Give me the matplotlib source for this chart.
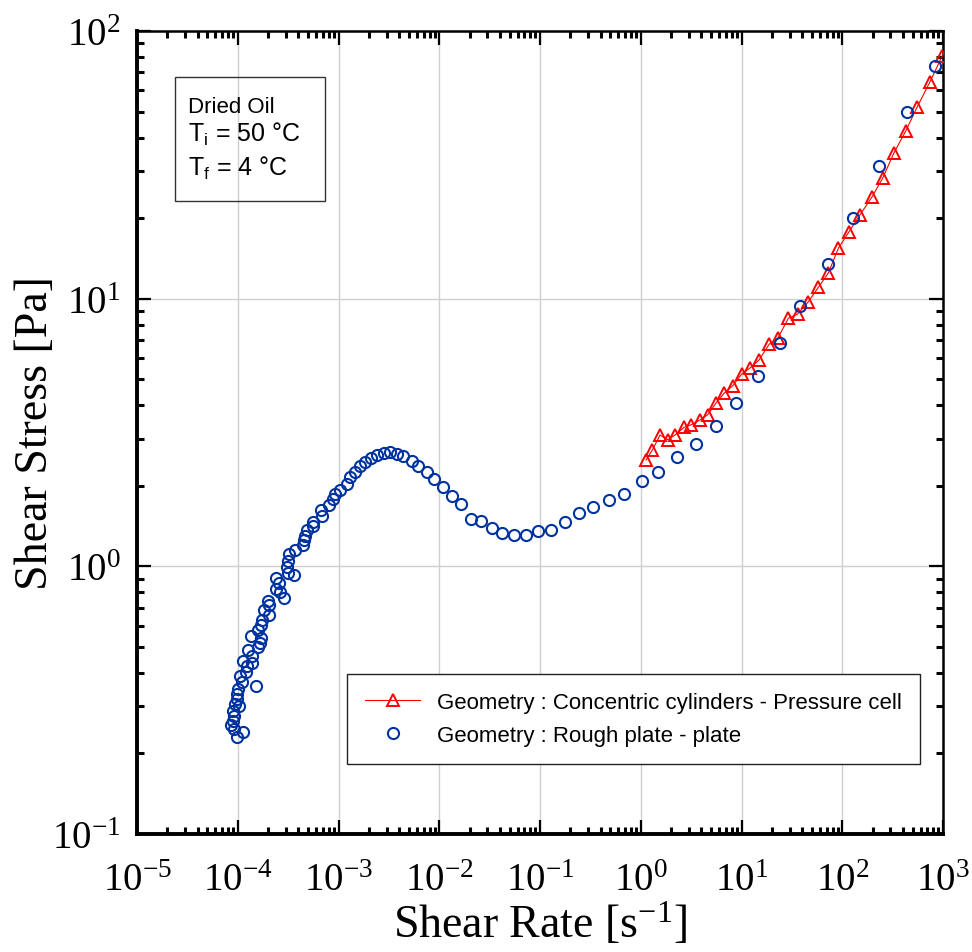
import matplotlib
matplotlib.use("Agg")
import matplotlib.pyplot as plt
from matplotlib.patches import Rectangle
from matplotlib.ticker import LogLocator, NullFormatter

plt.rcParams['font.family'] = 'Liberation Serif'

# rough plate - plate (blue circles)
rate_plate = [
    9.76e-5, 1.135e-4, 9.24e-5, 8.57e-5, 9.03e-5, 9.24e-5, 9.03e-5, 1.029e-4, 9.39e-5, 9.76e-5,
    9.76e-5, 9.99e-5, 1.508e-4, 1.110e-4, 1.053e-4, 1.199e-4, 1.227e-4, 1.394e-4, 1.120e-4, 1.375e-4,
    1.256e-4, 1.600e-4, 1.663e-4, 1.701e-4, 1.344e-4, 1.600e-4, 1.690e-4, 1.753e-4, 2.042e-4, 1.822e-4,
    2.056e-4, 2.010e-4, 2.877e-4, 2.627e-4, 2.397e-4, 2.550e-4, 2.397e-4, 3.640e-4, 3.175e-4, 3.104e-4,
    3.175e-4, 3.249e-4, 3.700e-4, 4.413e-4, 4.546e-4, 4.651e-4, 4.835e-4, 5.622e-4, 5.622e-4, 6.813e-4,
    6.704e-4, 8.049e-4, 8.757e-4, 9.23e-4, 1.035e-3, 1.223e-3, 1.300e-3, 1.458e-3, 1.634e-3, 1.832e-3,
    2.087e-3, 2.394e-3, 2.829e-3, 3.245e-3, 3.835e-3, 4.396e-3, 5.40e-3, 6.196e-3, 7.507e-3, 8.93e-3,
    1.097e-2, 1.347e-2, 1.633e-2, 2.052e-2, 2.597e-2, 3.317e-2, 4.224e-2, 5.52e-2, 7.26e-2, 9.62e-2,
    0.1286, 0.1770, 0.2438, 0.338, 0.484, 0.687, 1.022, 1.473, 2.306, 3.535,
    5.545, 8.82, 14.48, 24.11, 38.07, 72.7, 127.0, 233.2, 436.2, 838.8]
stress_plate = [
    0.231, 0.240, 0.247, 0.2555, 0.265, 0.2767, 0.2873, 0.300, 0.306, 0.3195,
    0.3334, 0.348, 0.358, 0.3688, 0.3905, 0.404, 0.4232, 0.4343, 0.443, 0.4636,
    0.487, 0.4983, 0.517, 0.5384, 0.548, 0.5783, 0.6036, 0.630, 0.658, 0.687,
    0.7171, 0.744, 0.7616, 0.804, 0.8228, 0.8642, 0.9022, 0.9306, 0.944, 0.994,
    1.050, 1.112, 1.154, 1.205, 1.257, 1.302, 1.370, 1.418, 1.460, 1.546,
    1.627, 1.695, 1.785, 1.864, 1.929, 2.031, 2.151, 2.257, 2.364, 2.460,
    2.533, 2.606, 2.651, 2.667, 2.629, 2.577, 2.481, 2.377, 2.257, 2.120,
    1.974, 1.826, 1.705, 1.503, 1.481, 1.391, 1.329, 1.309, 1.313, 1.352,
    1.370, 1.468, 1.582, 1.666, 1.765, 1.868, 2.084, 2.245, 2.561, 2.865,
    3.336, 4.066, 5.154, 6.830, 9.412, 13.48, 20.02, 31.39, 49.69, 73.8]

# concentric cylinders - pressure cell (red triangles)
rate_cyl = [1.127, 1.302, 1.552, 1.852, 2.188, 2.688, 3.131, 3.874, 4.618, 5.583,
            6.751, 8.18, 10.05, 12.15, 14.92, 18.87, 22.87, 29.14, 35.96, 46.03,
            57.86, 72.7, 91.4, 116.7, 150.1, 196.1, 252.1, 326.3, 426.4, 555.7,
            743.0, 984.2]
stress_cyl = [2.496, 2.720, 3.095, 2.972, 3.095, 3.307, 3.373, 3.522, 3.686, 4.076,
              4.442, 4.730, 5.231, 5.508, 5.901, 6.770, 7.111, 8.447, 8.764, 9.743,
              11.03, 12.47, 15.43, 17.79, 20.59, 23.91, 28.24, 35.11, 42.3, 52.15,
              64.66, 80.86]

label_cyl = "Geometry : Concentric cylinders - Pressure cell"
label_plate = "Geometry : Rough plate - plate"
blue = '#0033a0'

fig = plt.figure(figsize=(9.72, 9.53), dpi=100)
ax = fig.add_axes([0.141, 0.1238, 0.8292, 0.8426])

ax.plot(rate_cyl, stress_cyl, '-', color='red', lw=0.8, marker='^', ms=8,
        mfc='none', mec='red', mew=1.4, label=label_cyl, zorder=3)
ax.plot(rate_plate, stress_plate, 'o', ls='none', ms=8, mfc='none', mec=blue,
        mew=1.5, label=label_plate, zorder=4)

ax.set_xscale('log')
ax.set_yscale('log')
ax.set_xlim(1e-5, 1e3)
ax.set_ylim(1e-1, 1e2)
for axis in (ax.xaxis, ax.yaxis):
    axis.set_major_locator(LogLocator(base=10, numticks=20))
    axis.set_minor_locator(LogLocator(base=10, subs=range(2, 10), numticks=20))
    axis.set_minor_formatter(NullFormatter())

ax.grid(True, which='major', color='#d0d0d0', lw=1)
ax.set_axisbelow(True)

for s in ['left', 'bottom']:
    ax.spines[s].set_linewidth(2.8)
for s in ['top', 'right']:
    ax.spines[s].set_linewidth(1.8)

ax.tick_params(which='both', direction='in', top=True, right=True)
ax.tick_params(which='major', length=10, width=1.6, labelsize=28)
ax.tick_params(which='minor', length=5, width=2.2)
ax.tick_params(axis='x', which='major', pad=20)
ax.tick_params(axis='y', which='major', pad=12)

ax.set_xlabel(r"Shear Rate [s$\mathregular{^{-1}}$]", fontsize=33, labelpad=1)
ax.set_ylabel("Shear Stress [Pa]", fontsize=33, labelpad=-4)

leg = ax.legend(loc='upper left', bbox_to_anchor=(0.2605, 0.1993),
                borderaxespad=0, fancybox=False, framealpha=1,
                prop={'family': 'Liberation Sans', 'size': 16},
                handlelength=2.5, handletextpad=0.75, labelspacing=0.55,
                borderpad=0.8)
leg.get_frame().set_edgecolor('#222222')
leg.get_frame().set_linewidth(1.0)

# annotation box
ax.add_patch(Rectangle((0.0471, 0.7883), 0.1862, 0.1544, transform=ax.transAxes,
                       fill=False, ec='#333333', lw=1.0, zorder=5))
ax.text(0.0633, 0.8991, "Dried Oil", transform=ax.transAxes, family='Liberation Sans',
        fontsize=16, va='baseline')
ax.text(0.0633, 0.863, r"T$\mathregular{_i}$ = 50 °C", transform=ax.transAxes,
        family='Liberation Sans', fontsize=18, va='baseline')
ax.text(0.0633, 0.8207, r"T$\mathregular{_f}$ = 4 °C", transform=ax.transAxes,
        family='Liberation Sans', fontsize=18, va='baseline')

fig.savefig('out.png', dpi=100)
